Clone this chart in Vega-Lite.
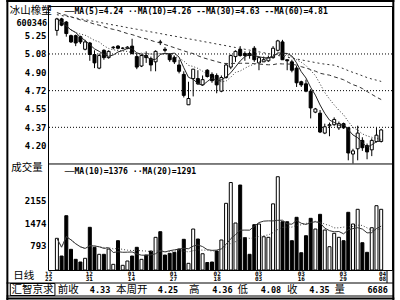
{
"$schema": "https://vega.github.io/schema/vega-lite/v6.json",
"width": 344, "height": 264,
"autosize": {"type": "none"},
"padding": {"left": 48, "top": 6, "right": 8, "bottom": 30},
"background": "white",
"config": {"view": {"stroke": "#000", "strokeWidth": 1}, "axis": {"labelFont": "DejaVu Sans Mono", "labelFontWeight": "bold", "labelColor": "#000", "ticks": false, "domain": false, "grid": false}},
"data": {"values": [
{"i":0,"o":5.30,"h":5.42,"l":5.25,"c":5.41,"v":1017,"m30":5.47,"m60":5.45},
{"i":1,"o":5.41,"h":5.42,"l":5.34,"c":5.35,"v":481,"m30":5.455,"m60":5.442},
{"i":2,"o":5.38,"h":5.39,"l":5.24,"c":5.27,"v":1701,"m30":5.445,"m60":5.434},
{"i":3,"o":5.25,"h":5.26,"l":5.18,"c":5.19,"v":684,"m30":5.43,"m60":5.427},
{"i":4,"o":5.25,"h":5.26,"l":5.15,"c":5.18,"v":381,"m30":5.415,"m60":5.419},
{"i":5,"o":5.24,"h":5.25,"l":5.17,"c":5.19,"v":300,"m30":5.40,"m60":5.41},
{"i":6,"o":5.12,"h":5.21,"l":5.11,"c":5.19,"v":412,"m30":5.39,"m60":5.402},
{"i":7,"o":5.18,"h":5.19,"l":5.01,"c":5.07,"v":1350,"m30":5.375,"m60":5.394},
{"i":8,"o":5.07,"h":5.11,"l":4.94,"c":4.99,"v":745,"m30":5.36,"m60":5.385},
{"i":9,"o":4.94,"h":5.08,"l":4.93,"c":5.06,"v":533,"m30":5.35,"m60":5.377},
{"i":10,"o":5.11,"h":5.12,"l":5.02,"c":5.04,"v":533,"m30":5.335,"m60":5.369},
{"i":11,"o":5.04,"h":5.11,"l":5.03,"c":5.10,"v":693,"m30":5.32,"m60":5.36},
{"i":12,"o":5.135,"h":5.15,"l":5.12,"c":5.14,"v":230,"m30":5.31,"m60":5.352},
{"i":13,"o":5.15,"h":5.16,"l":5.12,"c":5.13,"v":945,"m30":5.30,"m60":5.344},
{"i":14,"o":5.13,"h":5.14,"l":5.12,"c":5.13,"v":200,"m30":5.285,"m60":5.336},
{"i":15,"o":5.13,"h":5.15,"l":5.12,"c":5.14,"v":330,"m30":5.27,"m60":5.327},
{"i":16,"o":5.15,"h":5.22,"l":5.07,"c":5.08,"v":481,"m30":5.26,"m60":5.319},
{"i":17,"o":5.05,"h":5.08,"l":4.93,"c":4.95,"v":745,"m30":5.245,"m60":5.311},
{"i":18,"o":4.96,"h":5.07,"l":4.95,"c":5.06,"v":381,"m30":5.23,"m60":5.303},
{"i":19,"o":5.06,"h":5.10,"l":4.99,"c":5.04,"v":511,"m30":5.22,"m60":5.294},
{"i":20,"o":5.03,"h":5.05,"l":4.91,"c":4.97,"v":633,"m30":5.205,"m60":5.286},
{"i":21,"o":5.00,"h":5.11,"l":4.91,"c":5.10,"v":1047,"m30":5.19,"m60":5.278},
{"i":22,"o":5.19,"h":5.21,"l":5.16,"c":5.185,"v":1217,"m30":5.18,"m60":5.27},
{"i":23,"o":5.12,"h":5.14,"l":5.09,"c":5.11,"v":511,"m30":5.165,"m60":5.261},
{"i":24,"o":5.07,"h":5.08,"l":5.00,"c":5.02,"v":563,"m30":5.15,"m60":5.253},
{"i":25,"o":5.04,"h":5.06,"l":4.98,"c":5.00,"v":593,"m30":5.135,"m60":5.245},
{"i":26,"o":4.97,"h":5.02,"l":4.89,"c":4.91,"v":693,"m30":5.12,"m60":5.237},
{"i":27,"o":4.88,"h":4.91,"l":4.66,"c":4.68,"v":987,"m30":5.105,"m60":5.228},
{"i":28,"o":4.59,"h":4.81,"l":4.59,"c":4.65,"v":260,"m30":5.09,"m60":5.22},
{"i":29,"o":4.84,"h":4.93,"l":4.67,"c":4.93,"v":1298,"m30":5.079,"m60":5.212},
{"i":30,"o":4.84,"h":4.92,"l":4.78,"c":4.79,"v":996,"m30":5.058,"m60":5.204},
{"i":31,"o":4.78,"h":4.87,"l":4.77,"c":4.83,"v":550,"m30":5.041,"m60":5.195},
{"i":32,"o":4.92,"h":4.93,"l":4.85,"c":4.86,"v":285,"m30":5.027,"m60":5.187},
{"i":33,"o":4.88,"h":4.90,"l":4.80,"c":4.82,"v":300,"m30":5.015,"m60":5.179},
{"i":34,"o":4.87,"h":4.89,"l":4.70,"c":4.78,"v":633,"m30":5.002,"m60":5.17},
{"i":35,"o":4.72,"h":4.87,"l":4.71,"c":4.85,"v":966,"m30":4.990,"m60":5.162},
{"i":36,"o":4.85,"h":4.99,"l":4.84,"c":4.97,"v":2076,"m30":4.983,"m60":5.154},
{"i":37,"o":4.95,"h":5.07,"l":4.93,"c":5.06,"v":2705,"m30":4.983,"m60":5.145},
{"i":38,"o":5.05,"h":5.11,"l":5.00,"c":5.10,"v":1480,"m30":4.986,"m60":5.137},
{"i":39,"o":5.12,"h":5.15,"l":5.05,"c":5.06,"v":2630,"m30":4.986,"m60":5.129},
{"i":40,"o":5.08,"h":5.10,"l":5.01,"c":5.06,"v":1035,"m30":4.987,"m60":5.12},
{"i":41,"o":5.08,"h":5.10,"l":5.03,"c":5.06,"v":533,"m30":4.986,"m60":5.112},
{"i":42,"o":5.13,"h":5.15,"l":5.00,"c":5.02,"v":1430,"m30":4.982,"m60":5.103},
{"i":43,"o":4.99,"h":5.05,"l":4.92,"c":5.04,"v":1450,"m30":4.979,"m60":5.095},
{"i":44,"o":5.00,"h":5.05,"l":5.00,"c":5.02,"v":1065,"m30":4.975,"m60":5.087},
{"i":45,"o":5.01,"h":5.06,"l":5.00,"c":5.04,"v":1047,"m30":4.972,"m60":5.078},
{"i":46,"o":5.04,"h":5.15,"l":5.03,"c":5.13,"v":2060,"m30":4.973,"m60":5.07},
{"i":47,"o":5.11,"h":5.21,"l":5.10,"c":5.20,"v":2881,"m30":4.982,"m60":5.061},
{"i":48,"o":5.19,"h":5.21,"l":5.02,"c":5.02,"v":1519,"m30":4.980,"m60":5.053},
{"i":49,"o":5.02,"h":5.02,"l":4.92,"c":5.01,"v":1519,"m30":4.979,"m60":5.044},
{"i":50,"o":5.00,"h":5.02,"l":4.90,"c":4.92,"v":945,"m30":4.978,"m60":5.036},
{"i":51,"o":4.94,"h":4.96,"l":4.76,"c":4.80,"v":1653,"m30":4.968,"m60":5.027},
{"i":52,"o":4.81,"h":4.82,"l":4.76,"c":4.78,"v":581,"m30":4.954,"m60":5.019},
{"i":53,"o":4.79,"h":4.83,"l":4.71,"c":4.72,"v":1096,"m30":4.941,"m60":5.01},
{"i":54,"o":4.72,"h":4.74,"l":4.46,"c":4.56,"v":1622,"m30":4.926,"m60":5.002},
{"i":55,"o":4.52,"h":4.56,"l":4.51,"c":4.55,"v":1298,"m30":4.911,"m60":4.993},
{"i":56,"o":4.51,"h":4.54,"l":4.32,"c":4.33,"v":1743,"m30":4.891,"m60":4.985},
{"i":57,"o":4.32,"h":4.41,"l":4.31,"c":4.38,"v":1268,"m30":4.881,"m60":4.978},
{"i":58,"o":4.39,"h":4.42,"l":4.29,"c":4.40,"v":763,"m30":4.873,"m60":4.973},
{"i":59,"o":4.40,"h":4.47,"l":4.39,"c":4.45,"v":1168,"m30":4.857,"m60":4.968},
{"i":60,"o":4.37,"h":4.43,"l":4.35,"c":4.41,"v":1047,"m30":4.844,"m60":4.951},
{"i":61,"o":4.41,"h":4.42,"l":4.36,"c":4.37,"v":945,"m30":4.829,"m60":4.935},
{"i":62,"o":4.37,"h":4.38,"l":4.06,"c":4.13,"v":1804,"m30":4.805,"m60":4.916},
{"i":63,"o":4.12,"h":4.17,"l":4.03,"c":4.15,"v":1450,"m30":4.782,"m60":4.899},
{"i":64,"o":4.17,"h":4.39,"l":4.06,"c":4.32,"v":1895,"m30":4.767,"m60":4.884},
{"i":65,"o":4.25,"h":4.28,"l":4.15,"c":4.18,"v":884,"m30":4.745,"m60":4.867},
{"i":66,"o":4.20,"h":4.22,"l":4.07,"c":4.14,"v":593,"m30":4.717,"m60":4.85},
{"i":67,"o":4.16,"h":4.27,"l":4.10,"c":4.25,"v":1338,"m30":4.690,"m60":4.836},
{"i":68,"o":4.24,"h":4.37,"l":4.23,"c":4.30,"v":2004,"m30":4.663,"m60":4.825},
{"i":69,"o":4.24,"h":4.36,"l":4.23,"c":4.35,"v":1895,"m30":4.640,"m60":4.813}
]},
"resolve": {"scale": {"y": "independent"}, "axis": {"y": "independent"}},
"layer": [
{"layer": [
 {"data": {"values": [{"g":5.075},{"g":4.725},{"g":4.375}]},
  "mark": {"type": "rule", "strokeDash": [1,2], "color": "#000", "strokeWidth": 1},
  "encoding": {"y": {"field": "g", "type": "quantitative", "scale": {"domain": [3.013, 5.533], "nice": false, "zero": false},
    "axis": {"orient": "left", "title": null, "values": [5.25, 5.0751, 4.9, 4.7249, 4.55, 4.3749, 4.2], "format": ".2f", "labelFontSize": 9, "labelPadding": 2}}}},
 {"data": {"values": [{}]},
  "mark": {"type": "rule", "color": "#000", "strokeWidth": 1},
  "encoding": {"y": {"datum": 4.025, "type": "quantitative", "scale": {"domain": [3.013, 5.533], "nice": false, "zero": false}}}},
 {"mark": {"type": "rule", "color": "#000", "strokeWidth": 1},
  "encoding": {
   "x": {"field": "i", "type": "quantitative", "scale": {"domain": [-0.83, 70.24], "nice": false, "zero": false},
    "axis": {"orient": "bottom", "title": null, "values": [-1.85, 6.8, 15.75, 24.7, 34, 42.8, 51.9, 60.8, 69.2],
     "labelExpr": "datum.value < 0 ? ['12','22'] : datum.value < 10 ? ['12','31'] : datum.value < 20 ? ['01','14'] : datum.value < 30 ? ['01','27'] : datum.value < 38 ? ['02','18'] : datum.value < 47 ? ['03','03'] : datum.value < 56 ? ['03','16'] : datum.value < 65 ? ['03','29'] : ['04','08']",
     "labelFontSize": 6, "labelLineHeight": 5.5, "labelBaseline": "top", "labelPadding": 0, "labelFlush": false, "labelOverlap": false, "labelBound": false}},
   "y": {"field": "l", "type": "quantitative", "scale": {"domain": [3.013, 5.533], "nice": false, "zero": false}},
   "y2": {"field": "h"}}},
 {"mark": {"type": "bar", "size": 3, "stroke": "#000", "strokeWidth": 1, "orient": "vertical"},
  "encoding": {
   "x": {"field": "i", "type": "quantitative", "scale": {"domain": [-0.83, 70.24], "nice": false, "zero": false}},
   "y": {"field": "o", "type": "quantitative", "scale": {"domain": [3.013, 5.533], "nice": false, "zero": false}},
   "y2": {"field": "c"},
   "fill": {"condition": {"test": "datum.c >= datum.o", "value": "#fff"}, "value": "#000"}}},
 {"transform": [{"window": [{"op": "mean", "field": "c", "as": "ma5"}], "frame": [-4, 0], "sort": [{"field": "i"}]}],
  "mark": {"type": "line", "color": "#222", "strokeWidth": 1},
  "encoding": {
   "x": {"field": "i", "type": "quantitative", "scale": {"domain": [-0.83, 70.24], "nice": false, "zero": false}},
   "y": {"field": "ma5", "type": "quantitative", "scale": {"domain": [3.013, 5.533], "nice": false, "zero": false}}}},
 {"transform": [{"window": [{"op": "mean", "field": "c", "as": "ma10"}], "frame": [-9, 0], "sort": [{"field": "i"}]}],
  "mark": {"type": "line", "color": "#333", "strokeWidth": 1, "strokeDash": [1, 2]},
  "encoding": {
   "x": {"field": "i", "type": "quantitative", "scale": {"domain": [-0.83, 70.24], "nice": false, "zero": false}},
   "y": {"field": "ma10", "type": "quantitative", "scale": {"domain": [3.013, 5.533], "nice": false, "zero": false}}}},
 {"mark": {"type": "line", "color": "#333", "strokeWidth": 1, "strokeDash": [4, 3]},
  "encoding": {
   "x": {"field": "i", "type": "quantitative", "scale": {"domain": [-0.83, 70.24], "nice": false, "zero": false}},
   "y": {"field": "m30", "type": "quantitative", "scale": {"domain": [3.013, 5.533], "nice": false, "zero": false}}}},
 {"mark": {"type": "line", "color": "#333", "strokeWidth": 1, "strokeDash": [2, 3]},
  "encoding": {
   "x": {"field": "i", "type": "quantitative", "scale": {"domain": [-0.83, 70.24], "nice": false, "zero": false}},
   "y": {"field": "m60", "type": "quantitative", "scale": {"domain": [3.013, 5.533], "nice": false, "zero": false}}}},
 {"data": {"values": [{}]},
  "mark": {"type": "text", "text": "冰山橡塑", "align": "right", "baseline": "middle", "font": "Noto Sans CJK SC", "fontSize": 10.5, "color": "#000"},
  "encoding": {"x": {"datum": -1.10, "type": "quantitative", "scale": {"domain": [-0.83, 70.24], "nice": false, "zero": false}},
   "y": {"datum": 5.485, "type": "quantitative", "scale": {"domain": [3.013, 5.533], "nice": false, "zero": false}}}},
 {"data": {"values": [{}]},
  "mark": {"type": "text", "text": "600346", "align": "right", "baseline": "middle", "font": "DejaVu Sans Mono", "fontWeight": "bold", "fontSize": 8.5, "color": "#000"},
  "encoding": {"x": {"datum": -2.07, "type": "quantitative", "scale": {"domain": [-0.83, 70.24], "nice": false, "zero": false}},
   "y": {"datum": 5.375, "type": "quantitative", "scale": {"domain": [3.013, 5.533], "nice": false, "zero": false}}}},
 {"data": {"values": [{}]},
  "mark": {"type": "text", "text": "──MA(5)=4.24 ··MA(10)=4.26 --MA(30)=4.63 --MA(60)=4.81", "align": "left", "baseline": "middle", "font": "DejaVu Sans Mono", "fontWeight": "bold", "fontSize": 8.1, "color": "#000"},
  "encoding": {"x": {"datum": 1.649, "type": "quantitative", "scale": {"domain": [-0.83, 70.24], "nice": false, "zero": false}},
   "y": {"datum": 5.4757, "type": "quantitative", "scale": {"domain": [3.013, 5.533], "nice": false, "zero": false}}}},
 {"data": {"values": [{}]},
  "mark": {"type": "text", "text": "──MA(10)=1376 ··MA(20)=1291", "align": "left", "baseline": "middle", "font": "DejaVu Sans Mono", "fontWeight": "bold", "fontSize": 8.1, "color": "#000"},
  "encoding": {"x": {"datum": 1.649, "type": "quantitative", "scale": {"domain": [-0.83, 70.24], "nice": false, "zero": false}},
   "y": {"datum": 3.9484, "type": "quantitative", "scale": {"domain": [3.013, 5.533], "nice": false, "zero": false}}}},
 {"data": {"values": [{}]},
  "mark": {"type": "text", "text": "成交量", "align": "left", "baseline": "middle", "font": "Noto Sans CJK SC", "fontSize": 10.5, "color": "#000"},
  "encoding": {"x": {"datum": -9.714, "type": "quantitative", "scale": {"domain": [-0.83, 70.24], "nice": false, "zero": false}},
   "y": {"datum": 3.9866, "type": "quantitative", "scale": {"domain": [3.013, 5.533], "nice": false, "zero": false}}}},
 {"data": {"values": [{}]},
  "mark": {"type": "text", "text": "日线", "align": "left", "baseline": "middle", "font": "Noto Sans CJK SC", "fontSize": 10.5, "color": "#000"},
  "encoding": {"x": {"datum": -9.30, "type": "quantitative", "scale": {"domain": [-0.83, 70.24], "nice": false, "zero": false}},
   "y": {"datum": 2.9605, "type": "quantitative", "scale": {"domain": [3.013, 5.533], "nice": false, "zero": false}}}},
 {"data": {"values": [{}]},
  "mark": {"type": "text", "text": "汇智京求", "align": "left", "baseline": "middle", "font": "Noto Sans CJK SC", "fontSize": 10.5, "color": "#000"},
  "encoding": {"x": {"datum": -9.65, "type": "quantitative", "scale": {"domain": [-0.83, 70.24], "nice": false, "zero": false}},
   "y": {"datum": 2.822, "type": "quantitative", "scale": {"domain": [3.013, 5.533], "nice": false, "zero": false}}}},
 {"data": {"values": [{}]},
  "mark": {"type": "text", "text": "前收", "align": "left", "baseline": "middle", "font": "Noto Sans CJK SC", "fontSize": 10.5, "color": "#000"},
  "encoding": {"x": {"datum": 0.203, "type": "quantitative", "scale": {"domain": [-0.83, 70.24], "nice": false, "zero": false}},
   "y": {"datum": 2.822, "type": "quantitative", "scale": {"domain": [3.013, 5.533], "nice": false, "zero": false}}}},
 {"data": {"values": [{}]},
  "mark": {"type": "text", "text": "4.33", "align": "right", "baseline": "middle", "font": "DejaVu Sans Mono", "fontWeight": "bold", "fontSize": 8.5, "color": "#000"},
  "encoding": {"x": {"datum": 11.36, "type": "quantitative", "scale": {"domain": [-0.83, 70.24], "nice": false, "zero": false}},
   "y": {"datum": 2.822, "type": "quantitative", "scale": {"domain": [3.013, 5.533], "nice": false, "zero": false}}}},
 {"data": {"values": [{}]},
  "mark": {"type": "text", "text": "本周开", "align": "left", "baseline": "middle", "font": "Noto Sans CJK SC", "fontSize": 10.5, "color": "#000"},
  "encoding": {"x": {"datum": 12.60, "type": "quantitative", "scale": {"domain": [-0.83, 70.24], "nice": false, "zero": false}},
   "y": {"datum": 2.822, "type": "quantitative", "scale": {"domain": [3.013, 5.533], "nice": false, "zero": false}}}},
 {"data": {"values": [{}]},
  "mark": {"type": "text", "text": "4.25", "align": "right", "baseline": "middle", "font": "DejaVu Sans Mono", "fontWeight": "bold", "fontSize": 8.5, "color": "#000"},
  "encoding": {"x": {"datum": 25.82, "type": "quantitative", "scale": {"domain": [-0.83, 70.24], "nice": false, "zero": false}},
   "y": {"datum": 2.822, "type": "quantitative", "scale": {"domain": [3.013, 5.533], "nice": false, "zero": false}}}},
 {"data": {"values": [{}]},
  "mark": {"type": "text", "text": "高", "align": "left", "baseline": "middle", "font": "Noto Sans CJK SC", "fontSize": 10.5, "color": "#000"},
  "encoding": {"x": {"datum": 28.09, "type": "quantitative", "scale": {"domain": [-0.83, 70.24], "nice": false, "zero": false}},
   "y": {"datum": 2.822, "type": "quantitative", "scale": {"domain": [3.013, 5.533], "nice": false, "zero": false}}}},
 {"data": {"values": [{}]},
  "mark": {"type": "text", "text": "4.36", "align": "right", "baseline": "middle", "font": "DejaVu Sans Mono", "fontWeight": "bold", "fontSize": 8.5, "color": "#000"},
  "encoding": {"x": {"datum": 37.39, "type": "quantitative", "scale": {"domain": [-0.83, 70.24], "nice": false, "zero": false}},
   "y": {"datum": 2.822, "type": "quantitative", "scale": {"domain": [3.013, 5.533], "nice": false, "zero": false}}}},
 {"data": {"values": [{}]},
  "mark": {"type": "text", "text": "低", "align": "left", "baseline": "middle", "font": "Noto Sans CJK SC", "fontSize": 10.5, "color": "#000"},
  "encoding": {"x": {"datum": 38.42, "type": "quantitative", "scale": {"domain": [-0.83, 70.24], "nice": false, "zero": false}},
   "y": {"datum": 2.822, "type": "quantitative", "scale": {"domain": [3.013, 5.533], "nice": false, "zero": false}}}},
 {"data": {"values": [{}]},
  "mark": {"type": "text", "text": "4.08", "align": "right", "baseline": "middle", "font": "DejaVu Sans Mono", "fontWeight": "bold", "fontSize": 8.5, "color": "#000"},
  "encoding": {"x": {"datum": 47.72, "type": "quantitative", "scale": {"domain": [-0.83, 70.24], "nice": false, "zero": false}},
   "y": {"datum": 2.822, "type": "quantitative", "scale": {"domain": [3.013, 5.533], "nice": false, "zero": false}}}},
 {"data": {"values": [{}]},
  "mark": {"type": "text", "text": "收", "align": "left", "baseline": "middle", "font": "Noto Sans CJK SC", "fontSize": 10.5, "color": "#000"},
  "encoding": {"x": {"datum": 48.96, "type": "quantitative", "scale": {"domain": [-0.83, 70.24], "nice": false, "zero": false}},
   "y": {"datum": 2.822, "type": "quantitative", "scale": {"domain": [3.013, 5.533], "nice": false, "zero": false}}}},
 {"data": {"values": [{}]},
  "mark": {"type": "text", "text": "4.35", "align": "right", "baseline": "middle", "font": "DejaVu Sans Mono", "fontWeight": "bold", "fontSize": 8.5, "color": "#000"},
  "encoding": {"x": {"datum": 58.05, "type": "quantitative", "scale": {"domain": [-0.83, 70.24], "nice": false, "zero": false}},
   "y": {"datum": 2.822, "type": "quantitative", "scale": {"domain": [3.013, 5.533], "nice": false, "zero": false}}}},
 {"data": {"values": [{}]},
  "mark": {"type": "text", "text": "量", "align": "left", "baseline": "middle", "font": "Noto Sans CJK SC", "fontSize": 10.5, "color": "#000"},
  "encoding": {"x": {"datum": 59.08, "type": "quantitative", "scale": {"domain": [-0.83, 70.24], "nice": false, "zero": false}},
   "y": {"datum": 2.822, "type": "quantitative", "scale": {"domain": [3.013, 5.533], "nice": false, "zero": false}}}},
 {"data": {"values": [{}]},
  "mark": {"type": "text", "text": "6686", "align": "right", "baseline": "middle", "font": "DejaVu Sans Mono", "fontWeight": "bold", "fontSize": 8.5, "color": "#000"},
  "encoding": {"x": {"datum": 70.45, "type": "quantitative", "scale": {"domain": [-0.83, 70.24], "nice": false, "zero": false}},
   "y": {"datum": 2.822, "type": "quantitative", "scale": {"domain": [3.013, 5.533], "nice": false, "zero": false}}}},
 {"data": {"values": [{}]},
  "mark": {"type": "rule", "color": "#000", "strokeWidth": 1},
  "encoding": {"x": {"datum": -10.747, "type": "quantitative", "scale": {"domain": [-0.83, 70.24], "nice": false, "zero": false}}, "x2": {"datum": 71.58},
   "y": {"datum": 2.8889, "type": "quantitative", "scale": {"domain": [3.013, 5.533], "nice": false, "zero": false}}}},
 {"data": {"values": [{}]},
  "mark": {"type": "rule", "color": "#000", "strokeWidth": 1},
  "encoding": {"x": {"datum": -10.747, "type": "quantitative", "scale": {"domain": [-0.83, 70.24], "nice": false, "zero": false}}, "x2": {"datum": 71.58},
   "y": {"datum": 2.7647, "type": "quantitative", "scale": {"domain": [3.013, 5.533], "nice": false, "zero": false}}}},
 {"data": {"values": [{}]},
  "mark": {"type": "rule", "color": "#000", "strokeWidth": 1},
  "encoding": {"x": {"datum": 70.24, "type": "quantitative", "scale": {"domain": [-0.83, 70.24], "nice": false, "zero": false}},
   "y": {"datum": 3.013, "type": "quantitative", "scale": {"domain": [3.013, 5.533], "nice": false, "zero": false}}, "y2": {"datum": 2.8889}}},
 {"data": {"values": [{}]},
  "mark": {"type": "rect", "fill": "transparent", "stroke": "#000", "strokeWidth": 1},
  "encoding": {"x": {"datum": -9.92, "type": "quantitative", "scale": {"domain": [-0.83, 70.24], "nice": false, "zero": false}}, "x2": {"datum": -0.417},
   "y": {"datum": 2.8841, "type": "quantitative", "scale": {"domain": [3.013, 5.533], "nice": false, "zero": false}}, "y2": {"datum": 2.7695}}},
 {"data": {"values": [{}]},
  "mark": {"type": "rule", "color": "#000", "strokeWidth": 2},
  "encoding": {"x": {"datum": -10.747, "type": "quantitative", "scale": {"domain": [-0.83, 70.24], "nice": false, "zero": false}}, "x2": {"datum": 71.8},
   "y": {"datum": 5.5807, "type": "quantitative", "scale": {"domain": [3.013, 5.533], "nice": false, "zero": false}}}},
 {"data": {"values": [{}]},
  "mark": {"type": "rule", "color": "#000", "strokeWidth": 2},
  "encoding": {"x": {"datum": -10.747, "type": "quantitative", "scale": {"domain": [-0.83, 70.24], "nice": false, "zero": false}}, "x2": {"datum": 71.8},
   "y": {"datum": 2.7409, "type": "quantitative", "scale": {"domain": [3.013, 5.533], "nice": false, "zero": false}}}},
 {"data": {"values": [{}]},
  "mark": {"type": "rule", "color": "#000", "strokeWidth": 2},
  "encoding": {"x": {"datum": -10.54, "type": "quantitative", "scale": {"domain": [-0.83, 70.24], "nice": false, "zero": false}},
   "y": {"datum": 5.6, "type": "quantitative", "scale": {"domain": [3.013, 5.533], "nice": false, "zero": false}}, "y2": {"datum": 2.72}}},
 {"data": {"values": [{}]},
  "mark": {"type": "rule", "color": "#000", "strokeWidth": 2},
  "encoding": {"x": {"datum": 71.583, "type": "quantitative", "scale": {"domain": [-0.83, 70.24], "nice": false, "zero": false}},
   "y": {"datum": 5.6, "type": "quantitative", "scale": {"domain": [3.013, 5.533], "nice": false, "zero": false}}, "y2": {"datum": 2.72}}}
]},
{"layer": [
 {"mark": {"type": "bar", "size": 3, "stroke": "#000", "strokeWidth": 1, "orient": "vertical"},
  "encoding": {
   "x": {"field": "i", "type": "quantitative", "scale": {"domain": [-0.83, 70.24], "nice": false, "zero": false}},
   "y": {"field": "v", "type": "quantitative", "scale": {"domain": [58, 8048], "nice": false, "zero": false},
    "axis": {"orient": "left", "title": null, "values": [2155, 1474, 793], "format": "d", "labelFontSize": 9, "labelPadding": 2}},
   "y2": {"datum": 58},
   "fill": {"condition": {"test": "datum.c >= datum.o", "value": "#fff"}, "value": "#000"}}},
 {"transform": [{"window": [{"op": "mean", "field": "v", "as": "vm10"}], "frame": [-9, 0], "sort": [{"field": "i"}]}],
  "mark": {"type": "line", "color": "#333", "strokeWidth": 1},
  "encoding": {
   "x": {"field": "i", "type": "quantitative", "scale": {"domain": [-0.83, 70.24], "nice": false, "zero": false}},
   "y": {"field": "vm10", "type": "quantitative", "scale": {"domain": [58, 8048], "nice": false, "zero": false}}}},
 {"transform": [{"window": [{"op": "mean", "field": "v", "as": "vm20"}], "frame": [-19, 0], "sort": [{"field": "i"}]}],
  "mark": {"type": "line", "color": "#444", "strokeWidth": 1, "strokeDash": [1, 2]},
  "encoding": {
   "x": {"field": "i", "type": "quantitative", "scale": {"domain": [-0.83, 70.24], "nice": false, "zero": false}},
   "y": {"field": "vm20", "type": "quantitative", "scale": {"domain": [58, 8048], "nice": false, "zero": false}}}}
]}
]
}
